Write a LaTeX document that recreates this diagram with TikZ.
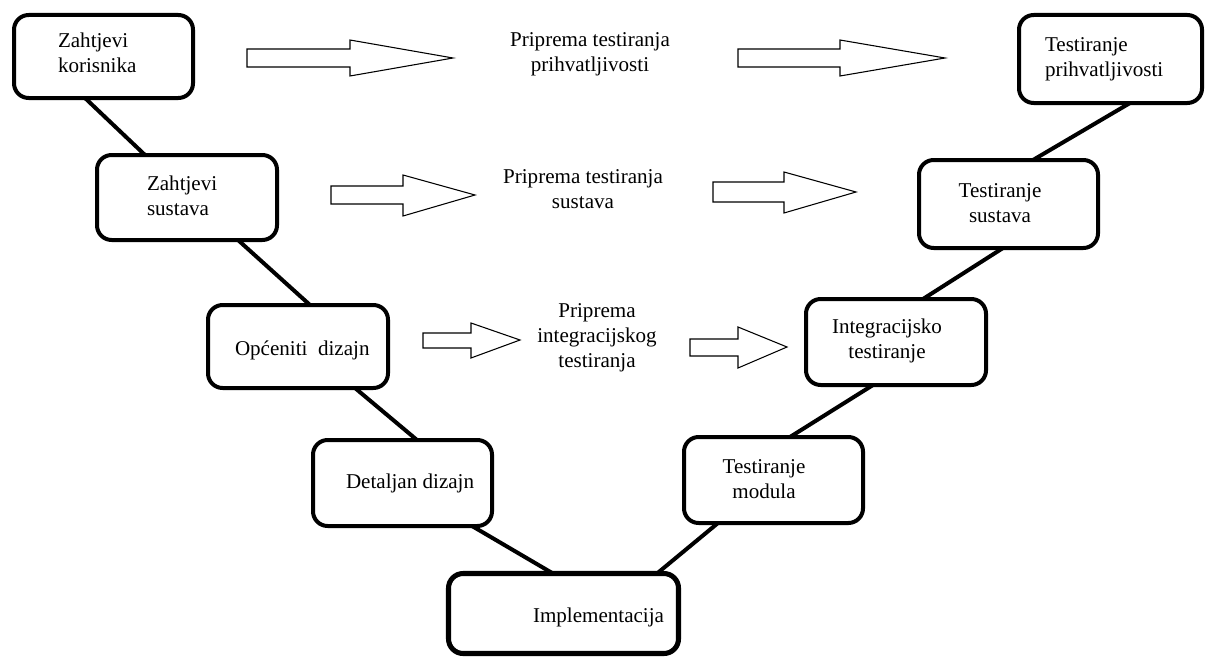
\documentclass[tikz,border=0pt]{standalone}
\usepackage{fontspec}
\setmainfont{Liberation Serif}
\usetikzlibrary{fit,calc}
\begin{document}
\begin{tikzpicture}[x=0.75pt,y=-0.75pt,
  box/.style={draw, line width=3pt, rounded corners=11pt, inner sep=0pt, outer sep=0pt, rectangle},
  bigbox/.style={box, line width=3.8pt},
  lbl/.style={font=\fontsize{15.8}{18.75}\selectfont, inner sep=0pt, outer sep=0pt, text=black},
  conn/.style={line width=3pt},
  blk/.style={draw, line width=0.8pt, fill=white, line join=miter}]
\useasboundingbox (0,0) rectangle (1209,660);

% boxes
\node[box, fit={(14,15) (193,98)}] (zk) {};
\node[box, fit={(97,155) (277,240)}] (zs) {};
\node[box, fit={(208,305) (388,388)}] (od) {};
\node[box, fit={(313,440) (492,526)}] (dd) {};
\node[bigbox, fit={(448.5,573.5) (678.5,653.5)}] (im) {};
\node[box, fit={(684,437) (863,523)}] (tm) {};
\node[box, fit={(806,299) (986,385)}] (it) {};
\node[box, fit={(919,160) (1098,248)}] (ts) {};
\node[box, fit={(1019,15) (1202,103)}] (tp) {};

% labels (multi-line: anchor base = last line)
\node[lbl, anchor=base west, align=left] (tzk) at (58,73) {Zahtjevi\\korisnika};
\node[lbl, anchor=base west, align=left] (tzs) at (147,215) {Zahtjevi\\sustava};
\node[lbl, anchor=base west] (tod) at (235,355) {Općeniti\ \ dizajn};
\node[lbl, anchor=base west] (tdd) at (346,488) {Detaljan dizajn};
\node[lbl, anchor=base west] (tim) at (533,622) {Implementacija};
\node[lbl, anchor=base, align=center] (ttm) at (764,498) {Testiranje\\modula};
\node[lbl, anchor=base, align=center] (tit) at (887,358) {Integracijsko\\testiranje};
\node[lbl, anchor=base, align=center] (tts) at (1000,222) {Testiranje\\sustava};
\node[lbl, anchor=base west, align=left] (ttp) at (1045,76) {Testiranje\\prihvatljivosti};
\node[lbl, anchor=base, align=center] (m1) at (590,72) {Priprema testiranja\\prihvatljivosti};
\node[lbl, anchor=base, align=center] (m2) at (583,208) {Priprema testiranja\\sustava};
\node[lbl, anchor=base, align=center] (m3) at (597,367) {Priprema\\integracijskog\\testiranja};

% connectors
\draw[conn] ($(zk.south west)+(71,0)$) -- ($(zs.north west)+(48,0)$);
\draw[conn] ($(zs.south west)+(141,0)$) -- ($(od.north west)+(102,0)$);
\draw[conn] ($(od.south west)+(147,0)$) -- ($(dd.north west)+(104,0)$);
\draw[conn] ($(dd.south west)+(159,0)$) -- ($(im.north west)+(104.5,0)$);
\draw[conn] ($(im.north west)+(208.5,0)$) -- ($(tm.south west)+(34,0)$);
\draw[conn] ($(tm.north west)+(106,0)$) -- ($(it.south west)+(67,0)$);
\draw[conn] ($(it.north west)+(117,0)$) -- ($(ts.south west)+(84,0)$);
\draw[conn] ($(ts.north west)+(114,0)$) -- ($(tp.south west)+(111,0)$);

% block arrows
\draw[blk] (247,49) -- (350,49) -- (350,40) -- (453,58) -- (350,76) -- (350,67) -- (247,67) -- cycle;
\draw[blk] (738,49) -- (840,49) -- (840,40) -- (945,58) -- (840,76) -- (840,67) -- (738,67) -- cycle;
\draw[blk] (331,186) -- (403,186) -- (403,175) -- (475,195) -- (403,216) -- (403,204) -- (331,204) -- cycle;
\draw[blk] (713,182) -- (784,182) -- (784,172) -- (856,192) -- (784,213) -- (784,202) -- (713,202) -- cycle;
\draw[blk] (423,333) -- (471,333) -- (471,323) -- (520,340) -- (471,358) -- (471,348) -- (423,348) -- cycle;
\draw[blk] (690,339) -- (738,339) -- (738,327) -- (787,347) -- (738,368) -- (738,356) -- (690,356) -- cycle;
\end{tikzpicture}
\end{document}
